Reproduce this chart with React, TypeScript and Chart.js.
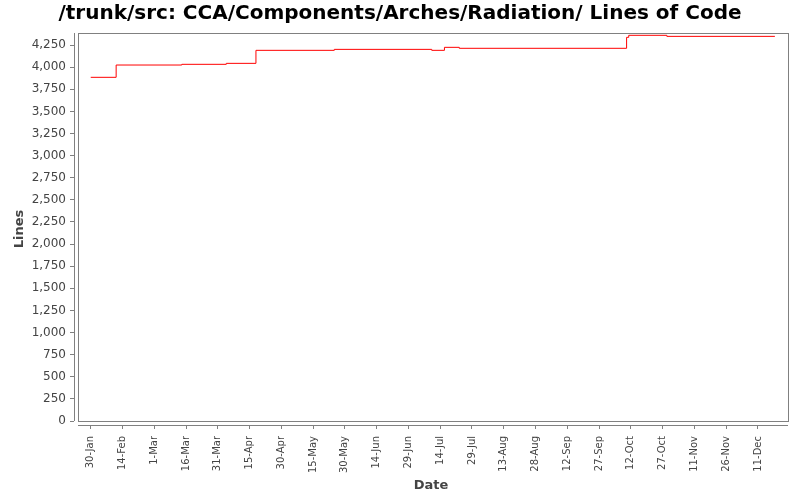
import { useEffect, useRef } from "react";
import { Chart, registerables } from "chart.js";

Chart.register(...registerables);

// day of year where the line count changes, and the count from that day on
const changeDays = [30, 42, 73, 94, 108, 145, 191, 197, 204, 283, 284, 302, 353];
const lineCounts = [3885, 4024, 4032, 4043, 4190, 4201, 4190, 4224, 4213, 4337, 4360, 4348, 4348];

const tickDays = [30, 45, 60, 75, 90, 105, 120, 135, 150, 165, 180, 195, 210, 225, 240, 255, 270, 285, 300, 315, 330, 345];
const tickLabels = [
  "30-Jan", "14-Feb", "1-Mar", "16-Mar", "31-Mar", "15-Apr", "30-Apr", "15-May", "30-May", "14-Jun", "29-Jun",
  "14-Jul", "29-Jul", "13-Aug", "28-Aug", "12-Sep", "27-Sep", "12-Oct", "27-Oct", "11-Nov", "26-Nov", "11-Dec",
];
const yTicks = [0, 250, 500, 750, 1000, 1250, 1500, 1750, 2000, 2250, 2500, 2750, 3000, 3250, 3500, 3750, 4000, 4250];

const FONT = "'DejaVu Sans', sans-serif";
const AXIS_GRAY = "#808080";

// JFreeChart-style plot: frame inset 4px from the axis lines
const plotFrame = {
  id: "plotFrame",
  afterDatasetsDraw(chart: Chart) {
    const { ctx, chartArea } = chart;
    const { left, right, top, bottom } = chartArea;
    ctx.save();
    ctx.strokeStyle = AXIS_GRAY;
    ctx.lineWidth = 1;
    ctx.strokeRect(left + 4.5, top + 0.5, right - left - 4, bottom - top - 4);
    ctx.beginPath();
    ctx.moveTo(left + 0.5, top);
    ctx.lineTo(left + 0.5, bottom - 4);
    ctx.moveTo(left + 4, bottom + 0.5);
    ctx.lineTo(right, bottom + 0.5);
    ctx.stroke();
    ctx.restore();
  },
};

export default function App() {
  const canvasRef = useRef<HTMLCanvasElement | null>(null);

  useEffect(() => {
    if (!canvasRef.current) {
      return;
    }

    const chart = new Chart(canvasRef.current, {
      type: "line",
      data: {
        datasets: [
          {
            label: "Lines of Code",
            data: changeDays.map((day, i) => ({ x: day, y: lineCounts[i] })),
            borderColor: "#ff0000",
            borderWidth: 1,
            pointRadius: 0,
            stepped: "before",
            fill: false,
          },
        ],
      },
      options: {
        animation: false,
        responsive: false,
        devicePixelRatio: 1,
        layout: { padding: { left: 12, right: 12, top: 0, bottom: 0 } },
        plugins: {
          legend: { display: false },
          tooltip: { enabled: false },
          title: {
            display: true,
            text: "/trunk/src: CCA/Components/Arches/Radiation/ Lines of Code",
            color: "#000000",
            font: { family: FONT, size: 20, weight: "bold", lineHeight: 1.2 },
            padding: { top: 2, bottom: 7 },
          },
        },
        scales: {
          x: {
            type: "linear",
            min: 22.1,
            max: 359.2,
            border: { display: false },
            grid: { drawOnChartArea: false, drawTicks: true, tickLength: 4, color: AXIS_GRAY },
            afterBuildTicks: (axis) => {
              axis.ticks = tickDays.map((value) => ({ value }));
            },
            afterFit: (axis) => {
              axis.height = 75;
            },
            ticks: {
              autoSkip: false,
              minRotation: 90,
              maxRotation: 90,
              padding: 7,
              color: "#444444",
              font: { family: FONT, size: 10 },
              callback: (value) => tickLabels[tickDays.indexOf(Number(value))] ?? "",
            },
            title: {
              display: true,
              text: "Date",
              color: "#444444",
              font: { family: FONT, size: 13, weight: "bold", lineHeight: 1.2 },
              padding: { top: 0, bottom: 7 },
            },
          },
          y: {
            type: "linear",
            min: -45,
            max: 4386,
            border: { display: false },
            grid: { drawOnChartArea: false, drawTicks: true, tickLength: 4, color: AXIS_GRAY },
            afterBuildTicks: (axis) => {
              axis.ticks = yTicks.map((value) => ({ value }));
            },
            afterFit: (axis) => {
              axis.width = 62;
            },
            ticks: {
              padding: 4,
              color: "#444444",
              font: { family: FONT, size: 12 },
              callback: (value) => Number(value).toLocaleString("en-US"),
            },
            title: {
              display: true,
              text: "Lines",
              color: "#444444",
              font: { family: FONT, size: 13, weight: "bold", lineHeight: 1.2 },
              padding: { top: 0, bottom: 0 },
            },
          },
        },
      },
      plugins: [plotFrame],
    });

    return () => {
      chart.destroy();
    };
  }, []);

  return (
    <div style={{ position: "fixed", left: 0, top: 0, width: 800, height: 500, background: "#ffffff" }}>
      <canvas ref={canvasRef} width={800} height={500} />
    </div>
  );
}
